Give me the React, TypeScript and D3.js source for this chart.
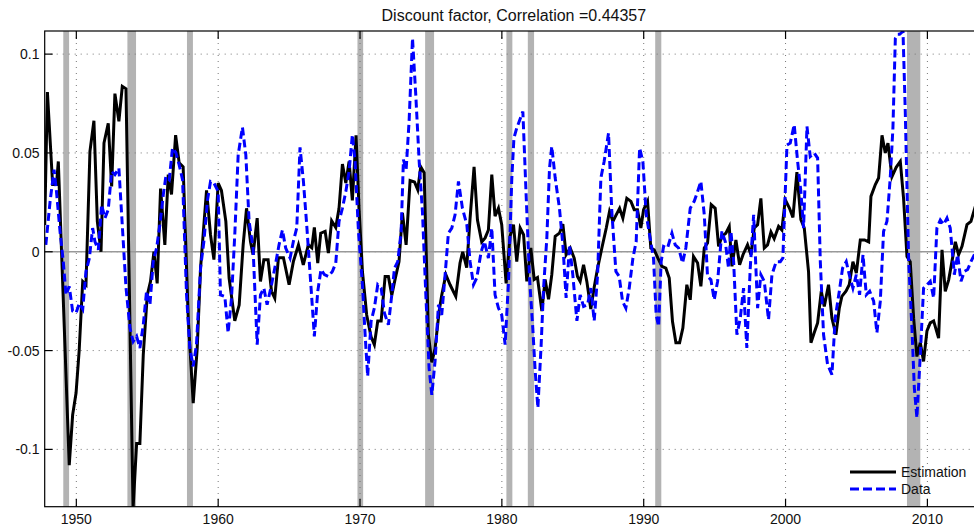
import { useEffect, useRef } from 'react';
import * as d3 from 'd3';

// [year, value] vertices
const estimation: [number, number][] = [
  [1947.77, 0.0135], [1947.96, 0.0808], [1948.33, 0.034], [1948.6, 0.034], [1948.73, 0.0457],
  [1949.5, -0.108], [1949.74, -0.0825], [1949.98, -0.0715], [1950.2, -0.05], [1950.45, -0.015],
  [1950.68, -0.0167], [1950.96, 0.0508], [1951.24, 0.0663], [1951.48, 0.0154], [1951.74, 0.0],
  [1951.95, 0.055], [1952.25, 0.065], [1952.49, 0.033], [1952.72, 0.08], [1953.0, 0.066],
  [1953.24, 0.0837], [1953.5, 0.0825], [1954.0, -0.13], [1954.25, -0.097], [1954.48, -0.097],
  [1954.72, -0.052], [1955.0, -0.022], [1955.23, -0.015], [1955.47, 0.0], [1955.7, -0.016],
  [1955.94, 0.032], [1956.24, 0.0035], [1956.48, 0.039], [1956.71, 0.029], [1957.0, 0.059],
  [1957.25, 0.045], [1957.53, 0.043], [1957.89, -0.0336], [1958.24, -0.0766], [1958.52, -0.049],
  [1958.76, -0.008], [1959.18, 0.031], [1959.46, 0.0086], [1959.7, -0.004], [1960.0, 0.0348],
  [1960.23, 0.031], [1960.54, 0.0154], [1960.77, -0.0133], [1961.17, -0.035], [1961.48, -0.027],
  [1961.76, 0.0035], [1962.0, 0.022], [1962.28, 0.005], [1962.46, -0.0015], [1962.75, 0.017],
  [1962.98, -0.015], [1963.22, -0.004], [1963.52, -0.004], [1963.76, -0.02], [1963.99, -0.0235],
  [1964.25, -0.003], [1964.6, -0.003], [1965.0, -0.0167], [1965.3, -0.005], [1965.66, 0.0035],
  [1966.0, -0.0066], [1966.36, 0.0035], [1966.6, 0.002], [1966.78, 0.0123], [1967.02, -0.0057],
  [1967.23, 0.0094], [1967.54, 0.0103], [1967.77, -0.0007], [1968.0, 0.0157], [1968.29, 0.0123],
  [1968.52, 0.022], [1968.76, 0.0444], [1969.0, 0.0348], [1969.23, 0.0457], [1969.46, 0.026],
  [1969.72, 0.0589], [1969.93, 0.022], [1970.17, -0.01], [1970.47, -0.032], [1970.78, -0.043],
  [1971.01, -0.047], [1971.25, -0.035], [1971.49, -0.035], [1971.77, -0.0125], [1972.0, -0.0125],
  [1972.24, -0.022], [1972.47, -0.014], [1972.75, -0.005], [1972.99, 0.0196], [1973.25, 0.0035],
  [1973.53, 0.036], [1973.84, 0.0353], [1974.07, 0.0314], [1974.28, 0.043], [1974.52, 0.04],
  [1974.82, -0.042], [1975.06, -0.056], [1975.29, -0.049], [1975.58, -0.03], [1975.76, -0.022],
  [1976.05, -0.0116], [1976.35, -0.0167], [1976.75, -0.0226], [1977.05, -0.0057], [1977.24, 0.0],
  [1977.52, -0.008], [1977.76, 0.017], [1978.04, 0.043], [1978.28, 0.016], [1978.58, 0.005],
  [1978.82, 0.007], [1979.05, 0.011], [1979.29, 0.039], [1979.52, 0.018], [1979.76, 0.022],
  [1979.99, 0.0137], [1980.3, -0.016], [1980.58, 0.008], [1980.82, 0.0137], [1981.05, -0.005],
  [1981.29, 0.012], [1981.53, 0.0086], [1981.76, -0.015], [1982.04, 0.0019], [1982.28, -0.014],
  [1982.51, -0.013], [1982.82, -0.03], [1983.05, -0.014], [1983.29, -0.024], [1983.52, -0.0116],
  [1983.76, 0.0078], [1984.06, 0.0094], [1984.3, 0.014], [1984.53, -0.0015], [1984.82, 0.0019],
  [1985.1, -0.0032], [1985.33, -0.0125], [1985.52, -0.015], [1985.76, -0.0066], [1985.99, -0.015],
  [1986.27, -0.029], [1986.51, -0.018], [1986.75, -0.0083], [1987.05, 0.0019], [1987.36, 0.012],
  [1987.59, 0.0204], [1987.83, 0.0154], [1988.06, 0.0187], [1988.3, 0.022], [1988.53, 0.017],
  [1988.81, 0.027], [1989.1, 0.0255], [1989.33, 0.0213], [1989.56, 0.0213], [1989.8, 0.012],
  [1989.99, 0.0213], [1990.27, 0.0255], [1990.5, 0.0019], [1990.74, 0.001], [1991.0, -0.0032],
  [1991.28, -0.0074], [1991.56, -0.0083], [1991.8, -0.0133], [1992.03, -0.0353], [1992.27, -0.046],
  [1992.53, -0.046], [1992.76, -0.0386], [1993.04, -0.0167], [1993.28, -0.0243], [1993.51, -0.0024],
  [1993.8, -0.0057], [1994.03, -0.0175], [1994.27, 0.0019], [1994.5, 0.0044], [1994.76, 0.0238],
  [1995.04, 0.022], [1995.28, 0.0027], [1995.51, 0.0078], [1995.79, 0.0094], [1996.03, 0.0128],
  [1996.22, -0.0074], [1996.5, 0.006], [1996.76, -0.0066], [1997.0, -0.0015], [1997.32, 0.0035],
  [1997.56, -0.0015], [1997.79, 0.012], [1998.03, 0.0137], [1998.26, 0.027], [1998.5, 0.0019],
  [1998.73, 0.0035], [1998.97, 0.01], [1999.2, 0.0066], [1999.51, 0.0128], [1999.74, 0.011],
  [1999.98, 0.0263], [2000.28, 0.022], [2000.52, 0.0174], [2000.8, 0.0403], [2001.08, 0.0162],
  [2001.32, 0.012], [2001.62, -0.01], [2001.79, -0.046], [2002.02, -0.041], [2002.26, -0.036],
  [2002.52, -0.02], [2002.73, -0.0277], [2003.03, -0.0167], [2003.27, -0.0336], [2003.55, -0.042],
  [2003.79, -0.0285], [2003.97, -0.0226], [2004.26, -0.02], [2004.49, -0.0167], [2004.75, -0.005],
  [2004.99, -0.0108], [2005.27, 0.006], [2005.57, 0.006], [2005.86, 0.005], [2006.02, 0.028],
  [2006.33, 0.034], [2006.56, 0.0373], [2006.8, 0.0589], [2007.03, 0.05], [2007.22, 0.055],
  [2007.5, 0.038], [2007.8, 0.0427], [2008.09, 0.0457], [2008.32, 0.027], [2008.56, -0.0024],
  [2008.79, -0.005], [2009.03, -0.0336], [2009.26, -0.053], [2009.5, -0.046], [2009.73, -0.0555],
  [2009.97, -0.04], [2010.2, -0.036], [2010.44, -0.035], [2010.79, -0.0437], [2011.03, 0.001],
  [2011.26, -0.02], [2011.5, -0.0142], [2011.73, -0.005], [2011.97, 0.005], [2012.2, -0.0015],
  [2012.44, 0.0027], [2012.79, 0.0137], [2013.07, 0.0154], [2013.38, 0.023], [2013.6, 0.026],
];

const dataSeries: [number, number][] = [
  [1947.85, 0.0035], [1948.15, 0.0255], [1948.43, 0.0415], [1948.6, 0.0305], [1948.85, 0.0103],
  [1949.08, -0.005], [1949.27, -0.0218], [1949.5, -0.0175], [1949.74, -0.03], [1949.98, -0.031],
  [1950.21, -0.026], [1950.45, -0.029], [1950.68, -0.01], [1950.92, -0.0032], [1951.15, 0.012],
  [1951.31, 0.0052], [1951.55, 0.001], [1951.78, 0.0238], [1952.02, 0.017], [1952.25, 0.0213],
  [1952.49, 0.0407], [1952.72, 0.039], [1953.0, 0.0423], [1953.5, -0.018], [1953.78, -0.0386],
  [1954.01, -0.0454], [1954.25, -0.0428], [1954.48, -0.0487], [1954.72, -0.037], [1954.95, -0.02],
  [1955.19, -0.0268], [1955.42, -0.005], [1955.66, 0.0019], [1955.89, 0.0137], [1956.13, 0.0288],
  [1956.31, 0.038], [1956.55, 0.0364], [1956.78, 0.0525], [1957.02, 0.05], [1957.25, 0.044],
  [1957.49, 0.0364], [1957.77, -0.0218], [1958.0, -0.0487], [1958.24, -0.058], [1958.47, -0.047],
  [1958.76, -0.008], [1958.99, 0.005], [1959.25, 0.0263], [1959.46, 0.0356], [1959.7, 0.0348],
  [1960.0, 0.0305], [1960.16, -0.0218], [1960.47, -0.0226], [1960.7, -0.041], [1960.94, -0.0235],
  [1961.17, 0.0086], [1961.41, 0.049], [1961.71, 0.063], [1961.95, 0.049], [1962.18, 0.0154],
  [1962.46, 0.0019], [1962.75, -0.047], [1962.98, -0.0218], [1963.22, -0.0184], [1963.45, -0.0268],
  [1963.76, -0.0167], [1963.99, -0.0083], [1964.29, 0.0035], [1964.53, 0.011], [1964.76, 0.0019],
  [1965.07, -0.0032], [1965.3, 0.0052], [1965.54, 0.012], [1965.77, 0.0528], [1966.01, 0.0356],
  [1966.24, 0.0137], [1966.55, -0.0184], [1966.78, -0.0428], [1967.02, -0.02], [1967.25, -0.009],
  [1967.49, -0.0116], [1967.77, -0.0125], [1968.05, -0.01], [1968.29, -0.0057], [1968.52, 0.0154],
  [1968.76, 0.022], [1969.0, 0.0305], [1969.23, 0.0407], [1969.46, 0.0592], [1969.65, 0.0457],
  [1969.89, 0.0103], [1970.17, -0.0167], [1970.36, -0.042], [1970.54, -0.063], [1970.78, -0.0353],
  [1971.01, -0.0285], [1971.25, -0.0167], [1971.49, -0.0184], [1971.72, -0.031], [1972.0, -0.037],
  [1972.24, -0.0218], [1972.43, -0.0083], [1972.66, -0.005], [1972.9, 0.0103], [1973.06, 0.0466],
  [1973.25, 0.0415], [1973.46, 0.066], [1973.7, 0.108], [1973.93, 0.0795], [1974.17, 0.0457],
  [1974.4, 0.0204], [1974.64, -0.0218], [1974.87, -0.059], [1975.06, -0.0724], [1975.29, -0.0555],
  [1975.53, -0.0268], [1975.76, -0.032], [1976.0, -0.0116], [1976.23, 0.0094], [1976.47, 0.012],
  [1976.7, 0.0187], [1976.94, 0.0356], [1977.22, 0.022], [1977.53, 0.0137], [1977.76, -0.005],
  [1978.0, -0.0167], [1978.23, -0.0133], [1978.54, 0.0], [1978.77, 0.0052], [1979.05, -0.0032],
  [1979.29, 0.012], [1979.52, -0.0218], [1979.76, -0.0285], [1979.99, -0.032], [1980.23, -0.047],
  [1980.47, -0.015], [1980.7, 0.037], [1980.85, 0.0575], [1981.05, 0.0626], [1981.48, 0.071],
  [1981.71, 0.0288], [1981.95, -0.0133], [1982.18, -0.0386], [1982.35, -0.0606], [1982.54, -0.079],
  [1982.77, -0.047], [1982.94, -0.0184], [1983.17, 0.0069], [1983.36, 0.0423], [1983.52, 0.0533],
  [1983.76, 0.0373], [1984.06, 0.022], [1984.3, 0.0035], [1984.53, -0.0234], [1984.77, 0.0035],
  [1985.0, -0.0116], [1985.29, -0.035], [1985.52, -0.0218], [1985.76, -0.0277], [1986.04, -0.0268],
  [1986.27, -0.0184], [1986.51, -0.035], [1986.75, -0.0116], [1986.98, 0.0373], [1987.21, 0.0457],
  [1987.52, 0.06], [1987.75, 0.0204], [1988.04, -0.01], [1988.27, -0.0125], [1988.51, -0.0251],
  [1988.74, -0.0285], [1988.98, -0.0184], [1989.24, -0.0032], [1989.47, 0.0052], [1989.71, 0.0525],
  [1989.94, 0.0457], [1990.18, 0.0187], [1990.41, 0.0086], [1990.69, -0.0032], [1990.88, -0.032],
  [1991.05, -0.0378], [1991.23, -0.005], [1991.4, 0.0027], [1991.68, 0.0019], [1991.99, 0.0094],
  [1992.22, 0.0035], [1992.46, 0.0019], [1992.74, -0.0057], [1992.97, 0.0019], [1993.28, 0.022],
  [1993.56, 0.0255], [1993.8, 0.0305], [1994.03, 0.0356], [1994.27, 0.0187], [1994.5, -0.0125],
  [1994.74, -0.0142], [1994.97, -0.0243], [1995.21, -0.015], [1995.51, 0.0103], [1995.75, 0.0052],
  [1995.98, -0.0083], [1996.15, 0.0103], [1996.34, -0.005], [1996.57, -0.042], [1996.81, -0.0336],
  [1997.04, -0.0184], [1997.27, -0.0487], [1997.51, -0.0083], [1997.75, 0.0187], [1998.03, -0.0285],
  [1998.26, -0.0116], [1998.5, -0.015], [1998.8, -0.0344], [1999.04, -0.0116], [1999.34, -0.005],
  [1999.63, -0.005], [1999.81, -0.0032], [2000.1, 0.054], [2000.33, 0.055], [2000.61, 0.0643],
  [2000.85, 0.0457], [2001.08, 0.0305], [2001.27, 0.012], [2001.51, 0.0634], [2001.74, 0.0482],
  [2002.02, 0.05], [2002.26, 0.0474], [2002.45, -0.005], [2002.68, -0.042], [2002.96, -0.057],
  [2003.27, -0.0622], [2003.5, -0.0336], [2003.79, -0.02], [2004.02, -0.0083], [2004.28, -0.005],
  [2004.52, -0.0125], [2004.75, -0.0184], [2004.99, -0.0116], [2005.22, -0.0218], [2005.46, -0.0015],
  [2005.69, -0.0218], [2005.93, -0.02], [2006.21, -0.025], [2006.44, -0.041], [2006.68, -0.025],
  [2006.91, 0.0103], [2007.15, 0.0154], [2007.38, 0.0373], [2007.57, 0.0626], [2007.74, 0.108],
  [2007.9, 0.11], [2008.04, 0.11], [2008.28, 0.1115], [2008.44, 0.071], [2008.68, -0.005],
  [2008.91, -0.0386], [2009.08, -0.069], [2009.26, -0.084], [2009.5, -0.052], [2009.73, -0.0184],
  [2009.97, -0.0167], [2010.2, -0.015], [2010.44, -0.0234], [2010.67, 0.012], [2010.91, 0.016],
  [2011.14, 0.0137], [2011.38, 0.017], [2011.61, 0.012], [2011.9, -0.0116], [2012.13, -0.0015],
  [2012.37, -0.015], [2012.6, -0.01], [2012.84, -0.009], [2013.07, -0.005], [2013.31, -0.0015],
  [2013.6, 0.002],
];

const recessionStart = [1949.08, 1953.6, 1957.8, 1969.82, 1974.59, 1980.32, 1981.83, 1990.81, 2008.56];
const recessionEnd = [1949.49, 1954.21, 1958.22, 1970.22, 1975.22, 1980.74, 1982.27, 1991.24, 2009.5];

const xTicks = [1950, 1960, 1970, 1980, 1990, 2000, 2010];
const yTicks = [-0.1, -0.05, 0, 0.05, 0.1];
const yTickLabels = ['-0.1', '-0.05', '0', '0.05', '0.1'];

const seriesNames = ['Estimation', 'Data'];
const titleText = 'Discount factor, Correlation =0.44357';

export default function App() {
  const ref = useRef<SVGSVGElement | null>(null);

  useEffect(() => {
    const svg = d3.select(ref.current);
    svg.selectAll('*').remove();

    const width = 974;
    const height = 527;
    const left = 44.7;
    const right = 983;
    const top = 31;
    const bottom = 506.7;
    const font = '"Liberation Sans", Arial, Helvetica, sans-serif';

    const x = d3.scaleLinear().domain([1947.77, 2013.92]).range([left, right]);
    const y = d3.scaleLinear().domain([-0.129, 0.1117]).range([bottom, top]);

    svg.attr('width', width).attr('height', height);
    svg.append('rect').attr('width', width).attr('height', height).attr('fill', '#fff');

    svg.append('defs').append('clipPath').attr('id', 'plot-clip')
      .append('rect').attr('x', left).attr('y', top).attr('width', right - left).attr('height', bottom - top);

    // recession bands
    svg.append('g').selectAll('rect').data(recessionStart).join('rect')
      .attr('x', d => x(d))
      .attr('y', top)
      .attr('width', (d, i) => x(recessionEnd[i]) - x(d))
      .attr('height', bottom - top)
      .attr('fill', '#b3b3b3');

    // dotted grid
    const grid = svg.append('g').attr('stroke', '#777').attr('stroke-width', 1).attr('stroke-dasharray', '1,5');
    xTicks.forEach(t => {
      grid.append('line').attr('x1', x(t)).attr('x2', x(t)).attr('y1', top).attr('y2', bottom);
    });
    yTicks.forEach(t => {
      grid.append('line').attr('x1', left).attr('x2', right).attr('y1', y(t)).attr('y2', y(t));
    });

    // zero line
    svg.append('line')
      .attr('x1', left).attr('x2', right).attr('y1', y(0)).attr('y2', y(0))
      .attr('stroke', '#999').attr('stroke-width', 1.5);

    const line = d3.line<[number, number]>().x(d => x(d[0])).y(d => y(d[1]));
    const plot = svg.append('g').attr('clip-path', 'url(#plot-clip)');

    plot.append('path').datum(estimation)
      .attr('fill', 'none').attr('stroke', '#000').attr('stroke-width', 3)
      .attr('stroke-linejoin', 'miter').attr('d', line);

    plot.append('path').datum(dataSeries)
      .attr('fill', 'none').attr('stroke', '#0000ff').attr('stroke-width', 3)
      .attr('stroke-dasharray', '8,4').attr('d', line);

    // axes box and inward ticks
    const axes = svg.append('g').attr('stroke', '#000').attr('stroke-width', 1.2);
    axes.append('rect').attr('x', left).attr('y', top).attr('width', right - left).attr('height', bottom - top).attr('fill', 'none');
    xTicks.forEach(t => {
      axes.append('line').attr('x1', x(t)).attr('x2', x(t)).attr('y1', bottom).attr('y2', bottom - 8);
      axes.append('line').attr('x1', x(t)).attr('x2', x(t)).attr('y1', top).attr('y2', top + 8);
    });
    yTicks.forEach(t => {
      axes.append('line').attr('x1', left).attr('x2', left + 8).attr('y1', y(t)).attr('y2', y(t));
    });

    svg.append('g').selectAll('text').data(xTicks).join('text')
      .attr('x', d => x(d)).attr('y', 523.5)
      .attr('text-anchor', 'middle').attr('font-family', font).attr('font-size', 14).attr('fill', '#111')
      .text(d => String(d));

    svg.append('g').selectAll('text').data(yTicks).join('text')
      .attr('x', 39.5).attr('y', d => y(d) + 5)
      .attr('text-anchor', 'end').attr('font-family', font).attr('font-size', 14).attr('fill', '#111')
      .text((d, i) => yTickLabels[i]);

    svg.append('text')
      .attr('x', (left + right) / 2).attr('y', 21)
      .attr('text-anchor', 'middle').attr('font-family', font).attr('font-size', 16).attr('fill', '#111')
      .text(titleText);

    // legend
    const legend = svg.append('g').attr('transform', 'translate(850,472)');
    const styles = [
      { color: '#000', dash: null as string | null },
      { color: '#0000ff', dash: '9,4' },
    ];
    seriesNames.forEach((name, i) => {
      const ly = i * 17;
      const l = legend.append('line')
        .attr('x1', 0).attr('x2', 46).attr('y1', ly).attr('y2', ly)
        .attr('stroke', styles[i].color).attr('stroke-width', 3);
      if (styles[i].dash) l.attr('stroke-dasharray', styles[i].dash);
      legend.append('text')
        .attr('x', 51).attr('y', ly + 5)
        .attr('font-family', font).attr('font-size', 14).attr('fill', '#111')
        .text(name);
    });
  }, []);

  return (
    <div style={{ position: 'absolute', left: 0, top: 0 }}>
      <svg ref={ref} style={{ display: 'block' }} />
    </div>
  );
}
